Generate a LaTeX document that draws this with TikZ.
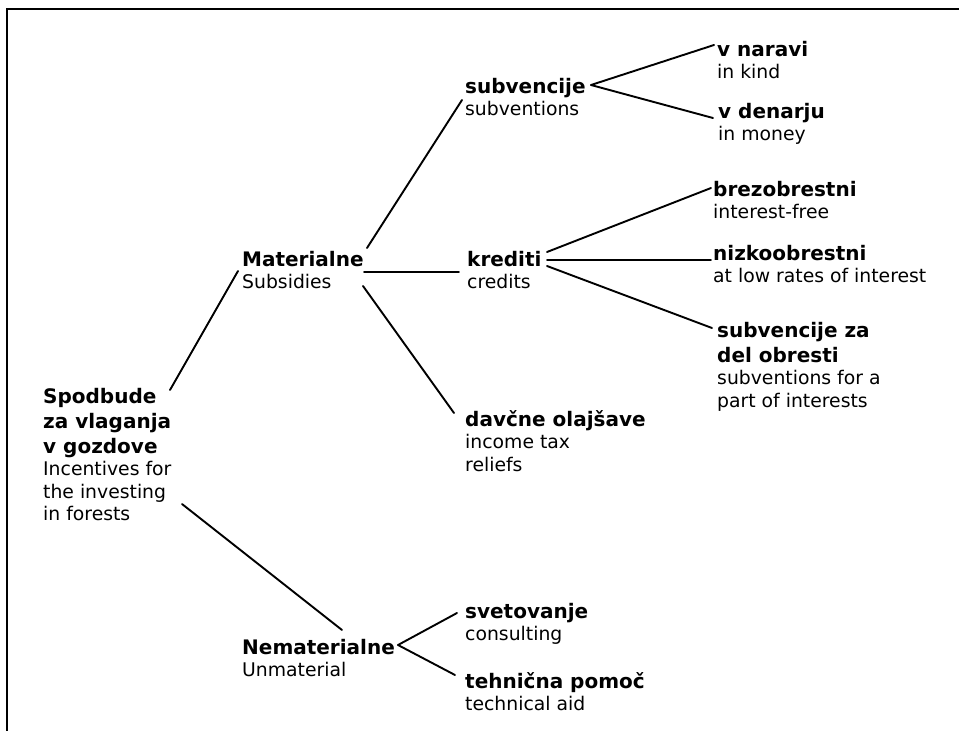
\documentclass[tikz,border=0pt]{standalone}
\usepackage{fontspec}
\setmainfont{DejaVu Sans}
\usetikzlibrary{positioning, calc}
\tikzset{
    term/.style={anchor=north west, inner sep=0pt, align=left,
                 font=\fontsize{18.8}{22.5}\selectfont},
    branch/.style={line width=1.9pt, line cap=round},
    frameline/.style={line width=1.9pt},
}
\newcommand\hd[1]{{\fontsize{20}{25}\selectfont\bfseries #1}}

\begin{document}
\begin{tikzpicture}[x=1pt, y=-1pt]

    \useasboundingbox (0,0) rectangle (959,731);
    \draw[frameline] (959,9) -- (7,9) -- (7,731);

    \node[term] (root) at (43,388)
        {\hd{Spodbude}\\[2.5pt]\hd{za vlaganja}\\[2.5pt]\hd{v gozdove}\\Incentives for\\the investing\\in forests};

    \node[term] (mat) at (242,251) {\hd{Materialne}\\Subsidies};
    \node[term] (nemat) at (242,639) {\hd{Nematerialne}\\Unmaterial};

    \node[term] (subv) at (465,78) {\hd{subvencije}\\subventions};
    \node[term] (kred) at (467,251) {\hd{krediti}\\credits};
    \node[term] (davc) at (465,410) {\hd{davčne olajšave}\\income tax\\reliefs};
    \node[term] (svet) at (465,603) {\hd{svetovanje}\\consulting};
    \node[term] (tehn) at (465,672) {\hd{tehnična pomoč}\\technical aid};

    \node[term] (narav) at (717,41) {\hd{v naravi}\\in kind};
    \node[term] (denar) at (718,103) {\hd{v denarju}\\in money};
    \node[term] (brez) at (713,181) {\hd{brezobrestni}\\interest-free};
    \node[term] (nizk) at (713,245) {\hd{nizkoobrestni}\\at low rates of interest};
    \node[term] (delobr) at (717,322)
        {\hd{subvencije za}\\[2.5pt]\hd{del obresti}\\subventions for a\\part of interests};

    % first level
    \draw[branch] ([xshift=127pt,yshift=-2pt]root.north west) -- ([xshift=-4pt,yshift=-20pt]mat.north west);
    \draw[branch] ([xshift=139pt,yshift=-116pt]root.north west) -- ([xshift=100pt,yshift=9pt]nemat.north west);

    % materialne
    \draw[branch] ([xshift=125pt,yshift=3pt]mat.north west) -- ([xshift=-3pt,yshift=-22pt]subv.north west);
    \draw[branch] ([xshift=122pt,yshift=-21pt]mat.north west) -- ([xshift=-8pt,yshift=-21pt]kred.north west);
    \draw[branch] ([xshift=121pt,yshift=-35pt]mat.north west) -- ([xshift=-11pt,yshift=-3pt]davc.north west);

    % subvencije fork
    \coordinate (subv_out) at ([xshift=126pt,yshift=-7pt]subv.north west);
    \draw[branch] (subv_out) -- ([xshift=-3pt,yshift=-4pt]narav.north west);
    \draw[branch] (subv_out) -- ([xshift=-5pt,yshift=-15pt]denar.north west);

    % krediti fan
    \draw[branch] ([xshift=80pt,yshift=-1pt]kred.north west) -- ([xshift=-2pt,yshift=-7pt]brez.north west);
    \draw[branch] ([xshift=80pt,yshift=-9pt]kred.north west) -- ([xshift=-2pt,yshift=-15pt]nizk.north west);
    \draw[branch] ([xshift=80pt,yshift=-15pt]kred.north west) -- ([xshift=-5pt,yshift=-6pt]delobr.north west);

    % nematerialne fork
    \coordinate (nemat_out) at ([xshift=156pt,yshift=-6pt]nemat.north west);
    \draw[branch] (nemat_out) -- ([xshift=-8pt,yshift=-10pt]svet.north west);
    \draw[branch] (nemat_out) -- ([xshift=-10pt,yshift=-3pt]tehn.north west);

\end{tikzpicture}
\end{document}
